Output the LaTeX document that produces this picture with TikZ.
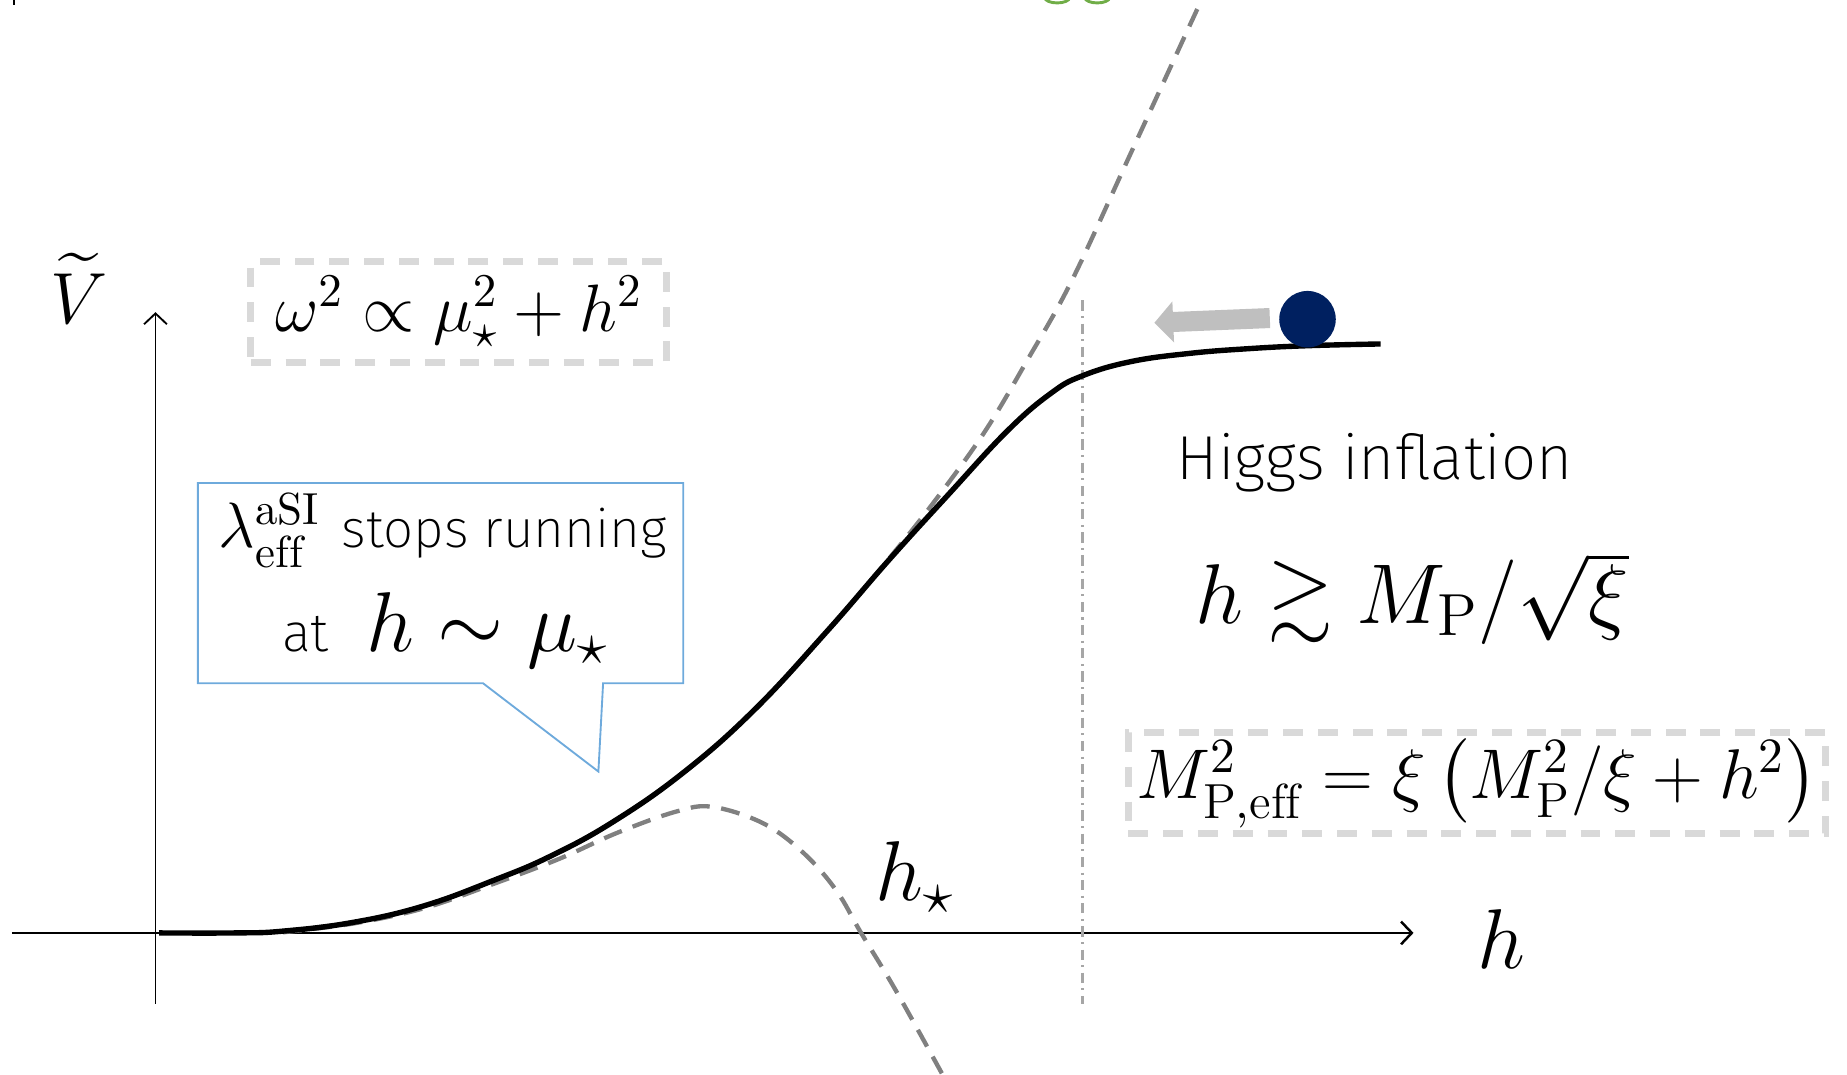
\RequirePackage{fix-cm}
\documentclass[tikz,border=0pt]{standalone}
\usepackage{amsmath,amssymb}
\usepackage{fontspec}
\newfontfamily\lightsf{Fira Sans ExtraLight}
\usepackage{xcolor}
\usepackage{tikz}
\usetikzlibrary{arrows.meta}
\definecolor{colBall}{RGB}{0,32,96}
\definecolor{colPush}{RGB}{191,191,191}
\definecolor{colBox}{RGB}{217,217,217}
\definecolor{colDash}{RGB}{128,128,128}
\definecolor{colCut}{RGB}{166,166,166}
\definecolor{colCall}{RGB}{110,170,220}
\definecolor{colTop}{RGB}{112,173,71}

\begin{document}
\begin{tikzpicture}[x=0.1mm, y=-0.1mm,
    >={Straight Barb[length=2.6pt, width=5.5pt]},
    eqbox/.style={draw=colBox, line width=1.7pt,
                  dash pattern=on 4.8pt off 3.6pt, inner sep=0pt},
    asym/.style={colDash, line width=1.05pt, dash pattern=on 4.6pt off 2.8pt},
    bigmath/.style={font=\fontsize{20.5}{24}\selectfont},
    midmath/.style={font=\fontsize{17}{20}\selectfont}]

\useasboundingbox (0,0) rectangle (1568,912);
\clip (0,0) rectangle (1568,912);

% Bords coupés
\draw[line width=0.5pt] (12,0) -- (12,4);
\draw[colTop, line width=0.7pt] (897.5,-2) ellipse[x radius=0.105cm, y radius=0.045cm];
\draw[colTop, line width=0.7pt] (931.5,-2) ellipse[x radius=0.105cm, y radius=0.045cm];

% Axes
\coordinate (hA) at (10,792);
\coordinate (hB) at (1200,792);
\coordinate (vA) at (132,852);
\coordinate (vB) at (132,265);
\draw[->, line width=0.6pt] (hA) -- (hB);
\draw[->, line width=0.45pt] (vA) -- (vB);
\node[font=\fontsize{17.5}{20}\selectfont] (Vlab) at (67,245) {$\widetilde{V}$};
\node[bigmath] (hlab) at (1275,797) {$h$};
\node[bigmath] (hstar) at (777,745) {$h_\star$};

% Limite de Higgs inflation
\coordinate (cutA) at (919,255);
\coordinate (cutB) at (919,852);
\draw[colCut, line width=0.5pt,
      dash pattern=on 2.5pt off 1.3pt on 0.5pt off 1.3pt] (cutA) -- (cutB);

% Courbes en pointillés
\draw[asym] plot[smooth, tension=0.6] coordinates {
    (240,790.5) (300,783) (360,769) (420,747) (467,727) (520,698)
    (580,656) (640,603) (702,536) (745,486) (790,430) (835,368)
    (872,306) (910,238) (960,130) (1020,0) (1025,-10)};
\draw[asym] plot[smooth, tension=0.6] coordinates {
    (240,791.5) (300,784) (360,771) (420,750) (475,729) (524,707)
    (574,689) (605,685) (648,699) (682,724) (710,756) (731,792)
    (760,840) (800,912) (805,922)};

% Potentiel
\draw[line width=1.3pt] plot[smooth, tension=0.7] coordinates {
    (135,792) (200,792) (240,790.5) (300,783) (360,769) (420,747)
    (467,727) (520,698) (580,656) (640,603) (702,536) (755,475)
    (805,420) (855,366) (892,334) (919,319) (960,307) (1010,300)
    (1060,296) (1110,293.5) (1172,292)};

% Bille et flèche
\node[circle, fill=colBall, minimum size=0.48cm, inner sep=0pt] (ball) at (1110,271) {};
\coordinate (pushA) at (1078,270);
\coordinate (pushB) at (980,274);
\draw[colPush, line width=0.17cm, -{Triangle[length=1.6mm, width=3.4mm]}] (pushA) -- (pushB);

% Encadrés
\node[eqbox, minimum width=3.53cm, minimum height=0.86cm,
      font=\fontsize{16.2}{19}\selectfont] (omega)
    at (389.5,265) {$\omega^2\propto\mu_\star^2+h^2$};
\node[eqbox, midmath, minimum width=5.92cm, minimum height=0.86cm] (mpeff)
    at (1254,665) {$M_{\mathrm{P,eff}}^2=\xi\left(M_{\mathrm{P}}^2/\xi+h^2\right)$};

% Régime de Higgs inflation
\node[font=\lightsf\fontsize{15}{18}\selectfont] (higgs) at (1167,393) {Higgs inflation};
\node[bigmath] (bound) at (1199,508) {$h\gtrsim M_{\mathrm{P}}/\sqrt{\xi}$};

% Bulle
\draw[colCall, line width=0.45pt] (168,410) -- (580,410) -- (580,580) -- (512,580)
    -- (508,655) -- (410,580) -- (168,580) -- cycle;
\node (callA) at (376,450)
    {{\fontsize{15.5}{18}\selectfont$\lambda_{\mathrm{eff}}^{\mathrm{aSI}}$}\hspace{0.5em}%
     {\lightsf\fontsize{12.8}{16}\selectfont stops running}};
\node (callB) at (378,535)
    {{\lightsf\fontsize{13}{16}\selectfont at}\hspace{0.9em}%
     {\fontsize{20.5}{24}\selectfont$h\sim\mu_\star$}};

\end{tikzpicture}
\end{document}
